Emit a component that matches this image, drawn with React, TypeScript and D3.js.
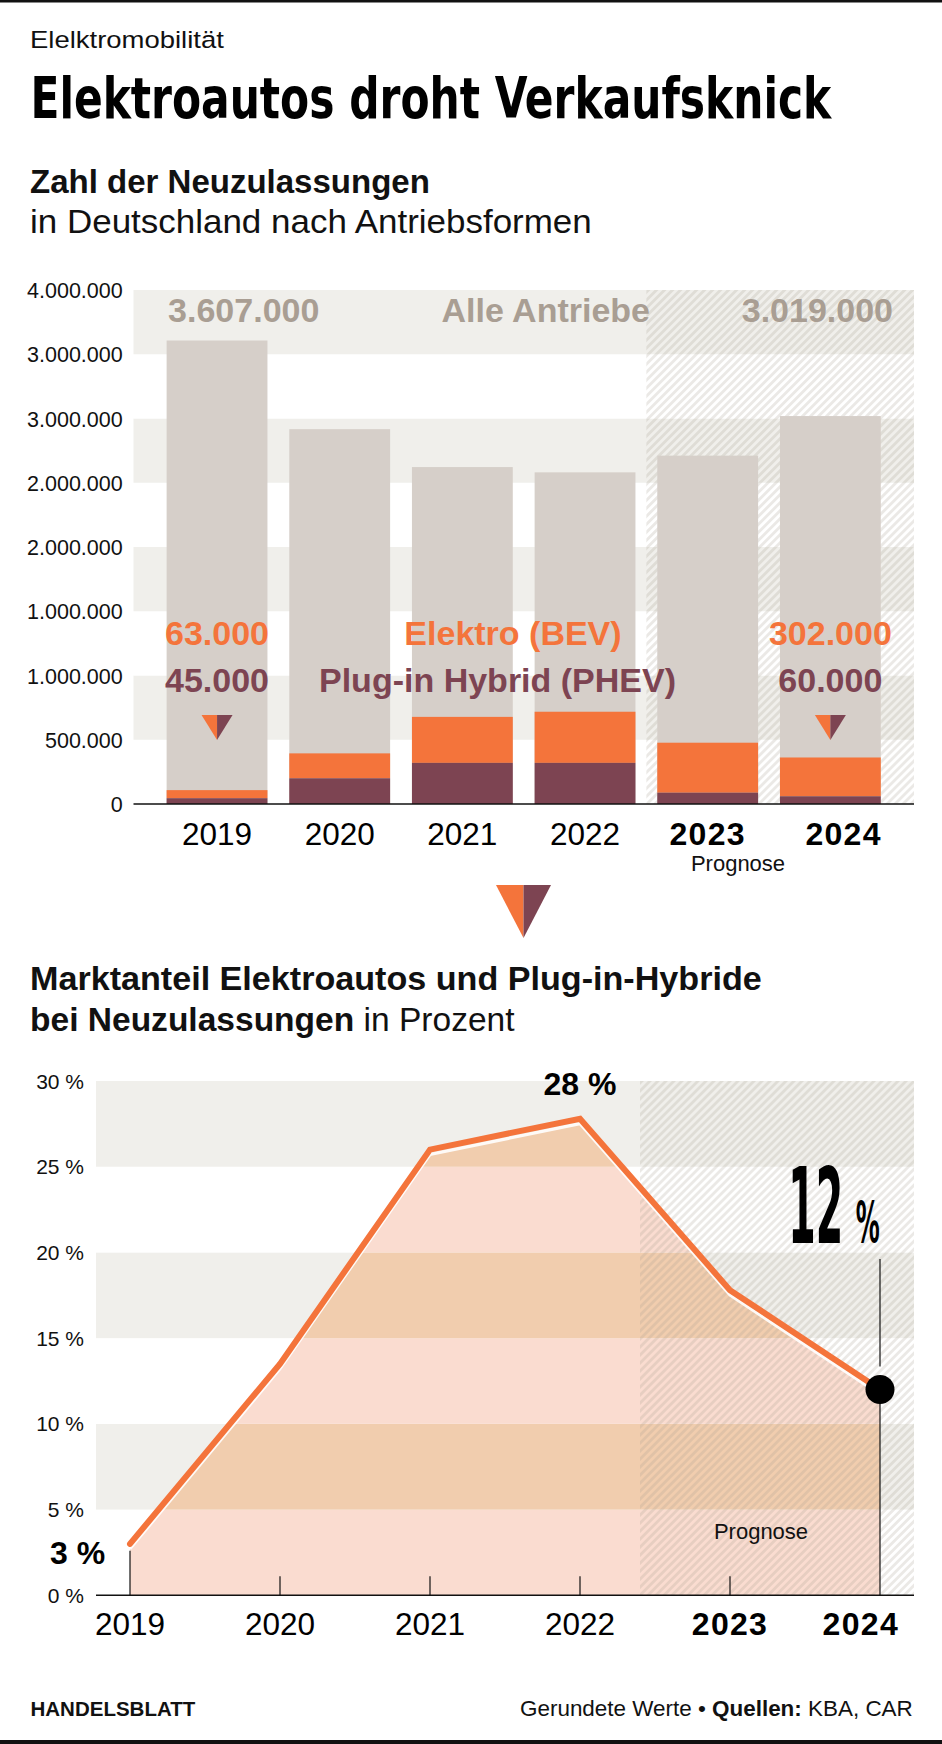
import React, { useEffect, useLayoutEffect, useRef, useState } from "react";
import * as d3 from "d3";

// ---------- DATA ----------
const years = ["2019", "2020", "2021", "2022", "2023", "2024"];
const forecastYears = ["2023", "2024"];
const totalRegistrations = [3607000, 2917000, 2622000, 2581000, 2711000, 3019000];
const phevRegistrations = [45000, 200000, 320000, 320000, 88000, 60000];
const bevRegistrations = [63000, 194000, 358000, 398000, 389000, 302000];
const regTickValues = [0, 500000, 1000000, 1500000, 2000000, 2500000, 3000000, 3500000, 4000000];
const regTickLabels = ["0", "500.000", "1.000.000", "1.000.000", "2.000.000", "2.000.000", "3.000.000", "3.000.000", "4.000.000"];
const shareValues = [3.0, 13.5, 26.0, 27.8, 17.8, 12.0];
const shareTickValues = [0, 5, 10, 15, 20, 25, 30];
const shareTickLabels = ["0 %", "5 %", "10 %", "15 %", "20 %", "25 %", "30 %"];

// ---------- STYLE ----------
const FONT = "'Liberation Sans', Arial, Helvetica, sans-serif";
const COND = "'Liberation Sans Narrow', 'DejaVu Sans Condensed', 'Liberation Sans', Arial, sans-serif";
const ORANGE = "#f4743b";
const PURPLE = "#7d4452";
const BAR_GRAY = "#d6cfc9";
const LABEL_GRAY = "#a99e93";
const BAND = "#f0efeb";
const AREA_ON_WHITE = "#fadcd0";
const AREA_ON_BAND = "#f1cdae";

const de = d3.formatLocale({ decimal: ",", thousands: ".", grouping: [3], currency: ["", " €"] });
const fmt = de.format(",");

// Text scaled horizontally to a target width (keeps glyph height)
function FitText(props: any) {
  const { x, y, width, anchorEnd, children, ...rest } = props;
  const ref = useRef<SVGTextElement>(null);
  const [sx, setSx] = useState(1);
  useLayoutEffect(() => {
    if (ref.current) {
      const w = ref.current.getComputedTextLength();
      if (w > 0) setSx(width / w);
    }
  }, [width]);
  const x0 = anchorEnd ? x - width : x;
  return (
    <text ref={ref} transform={`translate(${x0},${y}) scale(${sx},1)`} x={0} y={0} {...rest}>
      {children}
    </text>
  );
}

export default function App() {
  useEffect(() => {
    document.body.style.margin = "0";
  }, []);

  // ---------- TOP CHART SCALES ----------
  const topLeft = 133.5, topRight = 914;
  const xBand = d3.scaleBand<string>().domain(years).range([155.7, 891.7]).paddingInner(0.178).paddingOuter(0.089);
  const yReg = d3.scaleLinear().domain([0, 4000000]).range([804, 290]);
  const bw = xBand.bandwidth();
  const step = xBand.step();
  const hatchTopX = (xBand(forecastYears[0]) as number) - (step * 0.178) / 2;

  // ---------- BOTTOM CHART SCALES ----------
  const botLeft = 96, botRight = 914;
  const xPt = d3.scalePoint<string>().domain(years).range([130, 880]);
  const yShare = d3.scaleLinear().domain([0, 30]).range([1595.3, 1081]);
  const ptStep = xPt.step();
  const hatchBotX = (xPt(forecastYears[0]) as number) - ptStep * 0.6;

  const pts: [number, number][] = years.map((y, i) => [xPt(y) as number, yShare(shareValues[i])]);
  const linePath = d3.line()(pts) as string;
  const whitePath = d3.line()(pts.map(([x, y]) => [x, y + 5] as [number, number])) as string;
  const areaPath = d3.area<[number, number]>().x((d) => d[0]).y0(yShare(0)).y1((d) => d[1] + 4)(pts) as string;

  const cx = (y: string) => (xBand(y) as number) + bw / 2;
  const i19 = 0, i24 = 5;
  const lastPt = pts[pts.length - 1];

  const tri = (x: number, yTop: number, w: number, h: number) => (
    <g>
      <path d={`M${x - w / 2},${yTop} L${x},${yTop} L${x},${yTop + h} Z`} fill={ORANGE} />
      <path d={`M${x},${yTop} L${x + w / 2},${yTop} L${x},${yTop + h} Z`} fill={PURPLE} />
    </g>
  );

  const shareBands = shareTickValues.slice(0, -1).map((v, i) => ({
    y: yShare(shareTickValues[i + 1]),
    h: yShare(v) - yShare(shareTickValues[i + 1]),
    gray: i % 2 === 1,
  }));

  return (
    <svg width={942} height={1744} style={{ position: "absolute", left: 0, top: 0, background: "#fff" }} fontFamily={FONT}>
      <defs>
        <pattern id="hatch" patternUnits="userSpaceOnUse" width={5.66} height={5.66} patternTransform="rotate(45)">
          <rect x={0} y={0} width={2.83} height={5.66} fill="rgba(165,155,140,0.22)" />
        </pattern>
        <clipPath id="areaClip">
          <path d={areaPath} />
        </clipPath>
      </defs>
      <rect x={0} y={0} width={942} height={1744} fill="#fff" />
      <rect x={0} y={0} width={942} height={2.5} fill="#111" />
      <rect x={0} y={1740} width={942} height={4} fill="#111" />

      {/* Header */}
      <FitText x={30} y={47.5} width={194} fontSize={24.5} fill="#111">Elelktromobilität</FitText>
      <FitText x={30.5} y={117.5} width={801} fontSize={57} fontWeight={700} fontFamily={COND} fill="#000">Elektroautos droht Verkaufsknick</FitText>
      <FitText x={30} y={193} width={400} fontSize={32.5} fontWeight={700} fill="#111">Zahl der Neuzulassungen</FitText>
      <FitText x={30} y={233} width={562} fontSize={32.5} fill="#111">in Deutschland nach Antriebsformen</FitText>

      {/* ---------- TOP CHART ---------- */}
      {regTickValues.slice(0, -1).map((v, i) => (
        <rect key={"tb" + i} x={topLeft} y={yReg(regTickValues[i + 1])} width={topRight - topLeft} height={yReg(v) - yReg(regTickValues[i + 1])} fill={i % 2 === 1 ? BAND : "#fff"} />
      ))}
      <rect x={hatchTopX} y={yReg(4000000)} width={topRight - hatchTopX} height={yReg(0) - yReg(4000000)} fill="url(#hatch)" />
      {regTickValues.map((v, i) => (
        <text key={"tl" + i} x={122.7} y={yReg(v) + 8} fontSize={21.5} textAnchor="end" fill="#111">{regTickLabels[i]}</text>
      ))}
      {years.map((y, i) => {
        const x = xBand(y) as number;
        const p = phevRegistrations[i];
        const b = bevRegistrations[i];
        return (
          <g key={"bar" + y}>
            <rect x={x} y={yReg(totalRegistrations[i])} width={bw} height={yReg(0) - yReg(totalRegistrations[i])} fill={BAR_GRAY} />
            <rect x={x} y={yReg(p + b)} width={bw} height={yReg(p) - yReg(p + b)} fill={ORANGE} />
            <rect x={x} y={yReg(p)} width={bw} height={yReg(0) - yReg(p)} fill={PURPLE} />
          </g>
        );
      })}
      <line x1={topLeft} x2={topRight} y1={yReg(0)} y2={yReg(0)} stroke="#111" strokeWidth={1.5} />

      {/* Top labels */}
      <text x={(xBand(years[i19]) as number) + 1.5} y={322} fontSize={34} fontWeight={700} fill={LABEL_GRAY}>{fmt(totalRegistrations[i19])}</text>
      <text x={650} y={322} fontSize={34} fontWeight={700} fill={LABEL_GRAY} textAnchor="end">Alle Antriebe</text>
      <text x={893} y={322} fontSize={34} fontWeight={700} fill={LABEL_GRAY} textAnchor="end">{fmt(totalRegistrations[i24])}</text>

      <text x={cx(years[i19])} y={645} fontSize={34} fontWeight={700} fill={ORANGE} textAnchor="middle">{fmt(bevRegistrations[i19])}</text>
      <text x={cx(years[i19])} y={691.5} fontSize={34} fontWeight={700} fill={PURPLE} textAnchor="middle">{fmt(phevRegistrations[i19])}</text>
      {tri(cx(years[i19]), 715, 31, 25)}

      <text x={513} y={645} fontSize={34} fontWeight={700} fill={ORANGE} textAnchor="middle">Elektro (BEV)</text>
      <text x={497.5} y={691.5} fontSize={34} fontWeight={700} fill={PURPLE} textAnchor="middle">Plug-in Hybrid (PHEV)</text>

      <text x={cx(years[i24])} y={645} fontSize={34} fontWeight={700} fill={ORANGE} textAnchor="middle">{fmt(bevRegistrations[i24])}</text>
      <text x={cx(years[i24])} y={691.5} fontSize={34} fontWeight={700} fill={PURPLE} textAnchor="middle">{fmt(phevRegistrations[i24])}</text>
      {tri(cx(years[i24]), 715, 31, 25)}

      {years.map((y, i) => {
        const bold = forecastYears.includes(y);
        const last = i === years.length - 1;
        return (
          <text key={"xl" + y} x={last ? (xBand(y) as number) + bw + 1 : cx(y)} y={845} fontSize={bold ? 32 : 31.5} fontWeight={bold ? 700 : 400} letterSpacing={bold ? 1.3 : 0} textAnchor={last ? "end" : "middle"} fill="#000">{y}</text>
        );
      })}
      <text x={738} y={871} fontSize={22} textAnchor="middle" fill="#111">Prognose</text>

      {/* Separator triangle */}
      {tri(523.5, 885, 55, 53)}

      {/* Lower header */}
      <FitText x={30} y={990} width={732} fontSize={32.5} fontWeight={700} fill="#111">Marktanteil Elektroautos und Plug-in-Hybride</FitText>
      <FitText x={30} y={1031} width={484.7} fontSize={32.5} fill="#111">
        <tspan fontWeight={700}>bei Neuzulassungen</tspan>
        <tspan> in Prozent</tspan>
      </FitText>

      {/* ---------- BOTTOM CHART ---------- */}
      {shareBands.map((b, i) => (
        <rect key={"bb" + i} x={botLeft} y={b.y} width={botRight - botLeft} height={b.h} fill={b.gray ? BAND : "#fff"} />
      ))}
      <g clipPath="url(#areaClip)">
        {shareBands.map((b, i) => (
          <rect key={"ab" + i} x={botLeft} y={b.y} width={botRight - botLeft} height={b.h} fill={b.gray ? AREA_ON_BAND : AREA_ON_WHITE} />
        ))}
      </g>
      <rect x={hatchBotX} y={yShare(30)} width={botRight - hatchBotX} height={yShare(0) - yShare(30)} fill="url(#hatch)" />
      <path d={whitePath} fill="none" stroke="#fff" strokeOpacity={0.9} strokeWidth={3} />
      <path d={linePath} fill="none" stroke={ORANGE} strokeWidth={6} strokeLinecap="round" strokeLinejoin="miter" />

      {shareTickValues.map((v, i) => (
        <text key={"sl" + i} x={84} y={yShare(v) + 7.5} fontSize={21} textAnchor="end" fill="#111">{shareTickLabels[i]}</text>
      ))}
      <line x1={botLeft} x2={botRight} y1={yShare(0)} y2={yShare(0)} stroke="#111" strokeWidth={1.5} />
      {years.slice(1, -1).map((y) => (
        <line key={"tk" + y} x1={xPt(y) as number} x2={xPt(y) as number} y1={yShare(0) - 19} y2={yShare(0)} stroke="#111" strokeWidth={1.2} />
      ))}
      <line x1={pts[0][0]} x2={pts[0][0]} y1={pts[0][1] + 7} y2={yShare(0)} stroke="#111" strokeWidth={1.2} />
      <line x1={lastPt[0]} x2={lastPt[0]} y1={lastPt[1]} y2={yShare(0)} stroke="#111" strokeWidth={1.2} />
      <line x1={lastPt[0]} x2={lastPt[0]} y1={1259} y2={lastPt[1] - 23} stroke="#111" strokeWidth={1.2} />
      <circle cx={lastPt[0]} cy={lastPt[1]} r={14.5} fill="#000" />

      <text x={pts[3][0]} y={1095} fontSize={32} fontWeight={700} textAnchor="middle" fill="#000">{Math.round(shareValues[3])} %</text>
      <text x={50} y={1564} fontSize={32} fontWeight={700} fill="#000">{Math.round(shareValues[0])} %</text>
      <FitText x={788.3} y={1242.7} width={55} fontSize={106} fontWeight={700} fontFamily={COND} fill="#000">{Math.round(shareValues[5])}</FitText>
      <FitText x={855.7} y={1242.7} width={24} fontSize={57} fontWeight={700} fontFamily={COND} fill="#000">%</FitText>
      <text x={761} y={1539} fontSize={22} textAnchor="middle" fill="#111">Prognose</text>

      {years.map((y, i) => {
        const bold = forecastYears.includes(y);
        const last = i === years.length - 1;
        return (
          <text key={"bx" + y} x={last ? (xPt(y) as number) + 19 : (xPt(y) as number)} y={1635} fontSize={bold ? 32 : 31.5} fontWeight={bold ? 700 : 400} letterSpacing={bold ? 1.3 : 0} textAnchor={last ? "end" : "middle"} fill="#000">{y}</text>
        );
      })}

      {/* Footer */}
      <text x={30.5} y={1716} fontSize={20.5} fontWeight={700} fill="#111">HANDELSBLATT</text>
      <FitText x={913} anchorEnd y={1716} width={393} fontSize={21.5} fill="#111">
        <tspan>Gerundete Werte • </tspan>
        <tspan fontWeight={700}>Quellen:</tspan>
        <tspan> KBA, CAR</tspan>
      </FitText>
    </svg>
  );
}
